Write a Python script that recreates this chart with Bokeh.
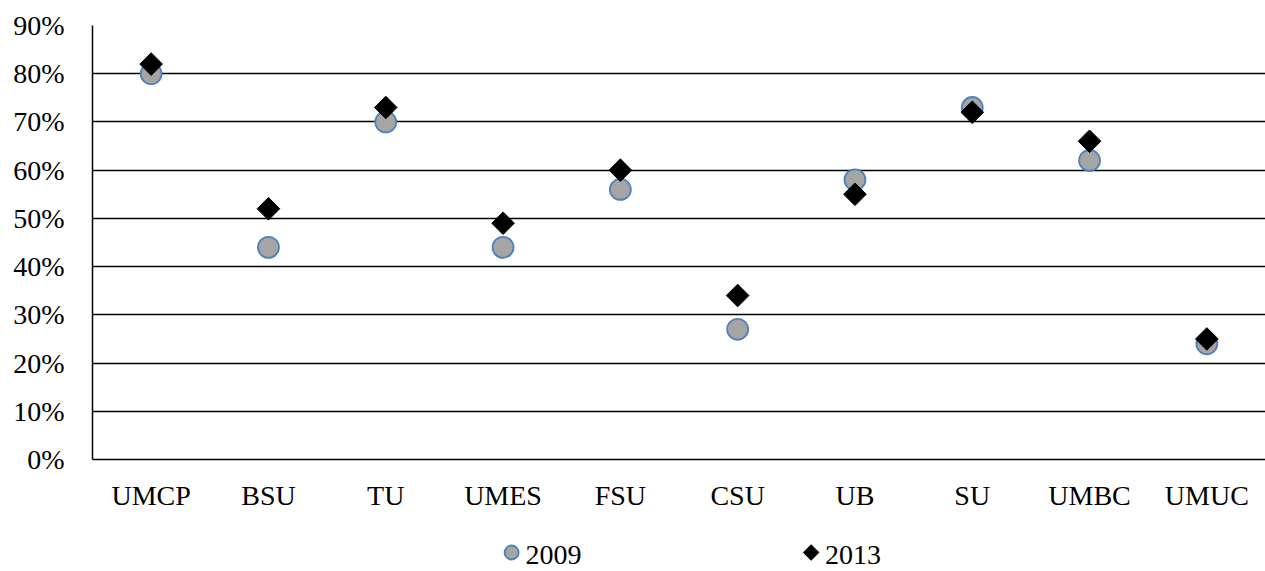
import math
from bokeh.plotting import figure
from bokeh.models import FactorRange, Range1d, NumeralTickFormatter, FixedTicker, ColumnDataSource
from bokeh.layouts import column
from bokeh.core.properties import value
from bokeh.embed import file_html
from bokeh.resources import INLINE

categories = ["UMCP", "BSU", "TU", "UMES", "FSU", "CSU", "UB", "SU", "UMBC", "UMUC"]
values_2009 = [0.80, 0.44, 0.70, 0.44, 0.56, 0.27, 0.58, 0.73, 0.62, 0.24]
values_2013 = [0.82, 0.52, 0.73, 0.49, 0.60, 0.34, 0.55, 0.72, 0.66, 0.25]
y_ticks = [0.0, 0.1, 0.2, 0.3, 0.4, 0.5, 0.6, 0.7, 0.8, 0.9]
series_names = ["2009", "2013"]

FONT = "Liberation Serif"
FSIZE = "28px"
W = 1265
H_MAIN = 520
H_LEG = 51

src = ColumnDataSource(dict(cat=categories, v09=values_2009, v13=values_2013))

p = figure(x_range=FactorRange(*categories, range_padding=0), y_range=Range1d(0, 0.9),
           width=W, height=H_MAIN, output_backend="svg", toolbar_location=None,
           min_border_left=92, min_border_right=0, min_border_top=25,
           min_border_bottom=H_MAIN - 25 - 434)
p.outline_line_color = None
p.xgrid.grid_line_color = None
p.ygrid.grid_line_color = "black"
p.ygrid.grid_line_width = 1.5
p.yaxis.ticker = FixedTicker(ticks=y_ticks)
p.yaxis.formatter = NumeralTickFormatter(format="0%")
for ax in (p.xaxis[0], p.yaxis[0]):
    ax.axis_line_color = "black"
    ax.axis_line_width = 1.5
    ax.major_tick_line_color = None
    ax.minor_tick_line_color = None
    ax.major_tick_out = 0
    ax.major_tick_in = 0
    ax.major_label_text_font = FONT
    ax.major_label_text_font_size = FSIZE
    ax.major_label_text_color = "black"
p.xaxis.major_label_standoff = 20
p.yaxis.major_label_standoff = 28

p.scatter("cat", "v09", source=src, marker="circle", size=21, fill_color="#A5A5A5",
          line_color="#4F81BD", line_width=1.8)
p.scatter("cat", "v13", source=src, marker="square", size=16, angle=math.pi / 4,
          fill_color="black", line_color="black")

# legend strip
lg = figure(x_range=Range1d(0, W), y_range=Range1d(0, H_LEG), width=W, height=H_LEG,
            output_backend="svg", toolbar_location=None,
            min_border_left=0, min_border_right=0, min_border_top=0, min_border_bottom=0)
lg.axis.visible = False
lg.grid.visible = False
lg.outline_line_color = None
ly = H_LEG - (554 - H_MAIN)
lg.scatter([452], [ly + 2], marker="circle", size=14, fill_color="#A5A5A5",
           line_color="#4F81BD", line_width=1.8)
lg.scatter([775], [ly + 2], marker="square", size=11, angle=math.pi / 4,
           fill_color="black", line_color="black")
lg.text([467, 790], [ly, ly], text=series_names, text_font=value(FONT),
        text_font_size=value(FSIZE), text_baseline="middle", text_align="left",
        text_color="black")

layout = column(p, lg, spacing=0)
open("out.html", "w").write(file_html(layout, INLINE))
